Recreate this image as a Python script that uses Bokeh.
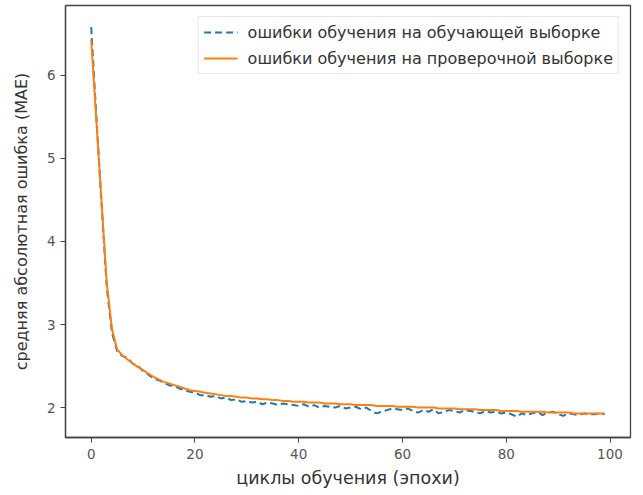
from bokeh.plotting import figure
from bokeh.models import Range1d, Legend, LegendItem, FixedTicker
from bokeh.embed import file_html
from bokeh.resources import INLINE

epochs = list(range(100))

train_mae = [
    6.58, 5.50, 4.45, 3.45, 2.90, 2.68, 2.62, 2.60, 2.53, 2.50,
    2.44, 2.40, 2.35, 2.33, 2.30, 2.27, 2.26, 2.23, 2.21, 2.19,
    2.18, 2.15, 2.15, 2.13, 2.14, 2.11, 2.12, 2.09, 2.10, 2.07,
    2.08, 2.06, 2.07, 2.04, 2.06, 2.05, 2.03, 2.05, 2.04, 2.03,
    2.02, 2.04, 2.01, 2.03, 2.00, 2.02, 2.01, 2.00, 2.02, 1.99,
    2.00, 2.01, 1.98, 2.00, 1.96, 1.93, 1.95, 1.97, 1.99, 1.98,
    1.97, 1.99, 1.96, 1.94, 1.97, 1.95, 1.98, 1.93, 1.95, 1.97,
    1.96, 1.94, 1.97, 1.96, 1.95, 1.93, 1.96, 1.94, 1.95, 1.93,
    1.94, 1.92, 1.89, 1.93, 1.91, 1.93, 1.95, 1.91, 1.94, 1.95,
    1.92, 1.90, 1.93, 1.92, 1.91, 1.93, 1.92, 1.92, 1.93, 1.92,
]

val_mae = [
    6.43, 5.45, 4.48, 3.50, 2.95, 2.70, 2.63, 2.58, 2.53, 2.49,
    2.45, 2.41, 2.37, 2.34, 2.31, 2.29, 2.27, 2.25, 2.23, 2.21,
    2.20, 2.19, 2.18, 2.17, 2.16, 2.15, 2.14, 2.14, 2.13, 2.12,
    2.12, 2.11, 2.11, 2.10, 2.10, 2.09, 2.09, 2.08, 2.08, 2.07,
    2.07, 2.07, 2.06, 2.06, 2.06, 2.05, 2.05, 2.05, 2.04, 2.04,
    2.04, 2.03, 2.03, 2.03, 2.03, 2.02, 2.02, 2.02, 2.02, 2.01,
    2.01, 2.01, 2.01, 2.00, 2.00, 2.00, 2.00, 1.99, 1.99, 1.99,
    1.99, 1.98, 1.98, 1.98, 1.98, 1.97, 1.97, 1.97, 1.97, 1.96,
    1.96, 1.96, 1.96, 1.95, 1.95, 1.95, 1.95, 1.95, 1.94, 1.94,
    1.94, 1.94, 1.94, 1.93, 1.93, 1.93, 1.93, 1.93, 1.93, 1.93,
]

x_ticks = [0, 20, 40, 60, 80, 100]
y_ticks = [2, 3, 4, 5, 6]

train_label = "ошибки обучения на обучающей выборке"
val_label = "ошибки обучения на проверочной выборке"
x_title = "циклы обучения (эпохи)"
y_title = "средняя абсолютная ошибка (MAE)"

FONT = "DejaVu Sans"

p = figure(width=643, height=495, output_backend="svg", toolbar_location=None,
           x_range=Range1d(-4.95, 103.95), y_range=Range1d(1.64, 6.84),
           min_border_left=65, min_border_right=13, min_border_top=5,
           min_border_bottom=58)

p.xgrid.visible = False
p.ygrid.visible = False
p.outline_line_color = "#444444"
p.outline_line_width = 1.3
p.background_fill_color = "white"
p.border_fill_color = "white"

for ax in (p.xaxis[0], p.yaxis[0]):
    ax.axis_line_color = "#444444"
    ax.axis_line_width = 1.3
    ax.major_tick_line_color = "#444444"
    ax.major_tick_out = 5
    ax.major_tick_in = 0
    ax.minor_tick_out = 0
    ax.minor_tick_in = 0
    ax.major_label_text_font = FONT
    ax.major_label_text_font_size = "13.5px"
    ax.major_label_text_color = "#555555"
    ax.axis_label_text_font = FONT
    ax.axis_label_text_font_style = "normal"
    ax.axis_label_text_color = "#333333"

p.xaxis[0].ticker = FixedTicker(ticks=x_ticks)
p.yaxis[0].ticker = FixedTicker(ticks=y_ticks)
p.xaxis[0].axis_label = x_title
p.xaxis[0].axis_label_text_font_size = "17.5px"
p.xaxis[0].major_label_standoff = 6
p.xaxis[0].axis_label_standoff = 6
p.yaxis[0].axis_label = y_title
p.yaxis[0].axis_label_text_font_size = "16px"
p.yaxis[0].major_label_standoff = 5
p.yaxis[0].axis_label_standoff = 13

r_train = p.line(epochs, train_mae, line_color="#1f77b4", line_width=2,
                 line_dash="7 4")
r_val = p.line(epochs, val_mae, line_color="#ff7f0e", line_width=2)

legend = Legend(items=[LegendItem(label=train_label, renderers=[r_train]),
                       LegendItem(label=val_label, renderers=[r_val])],
                location="top_right", margin=11, padding=5, spacing=6,
                glyph_width=34, glyph_height=20, label_height=20,
                label_standoff=10,
                label_text_font=FONT, label_text_font_size="16px",
                label_text_color="#333333",
                border_line_color="#d0d0d0", border_line_width=1,
                background_fill_alpha=0.8)
p.add_layout(legend)

open("out.html", "w").write(file_html(p, INLINE))
